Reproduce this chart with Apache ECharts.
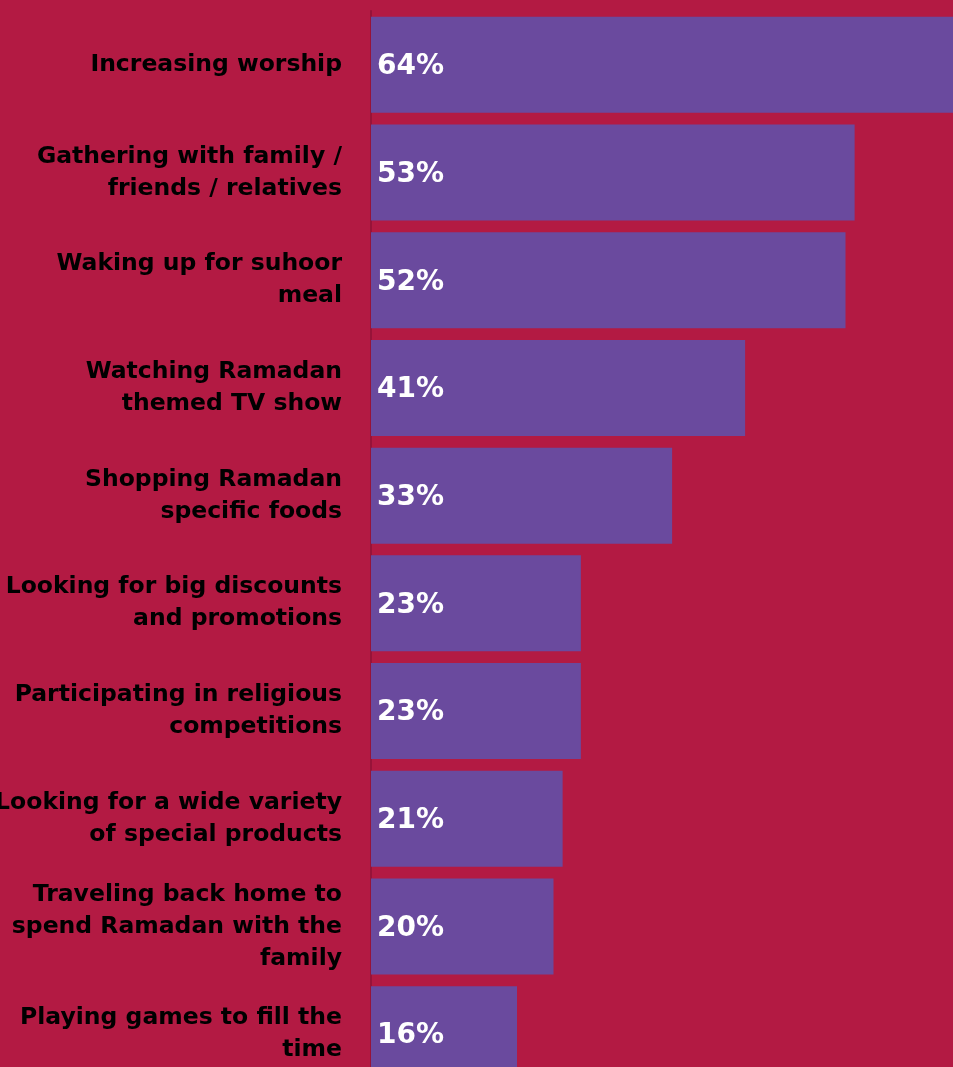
<!DOCTYPE html>
<html>
<head>
<meta charset="utf-8">
<script src="https://cdn.jsdelivr.net/npm/echarts@6/dist/echarts.min.js"></script>
<style>
html,body{margin:0;padding:0;background:#b31a43;overflow:hidden;}
#c{width:953px;height:1067px;}
</style>
</head>
<body>
<div id="c"></div>
<script>
const categories = [
  "Increasing worship",
  "Gathering with family /\nfriends / relatives",
  "Waking up for suhoor\nmeal",
  "Watching Ramadan\nthemed TV show",
  "Shopping Ramadan\nspecific foods",
  "Looking for big discounts\nand promotions",
  "Participating in religious\ncompetitions",
  "Looking for a wide variety\nof special products",
  "Traveling back home to\nspend Ramadan with the\nfamily",
  "Playing games to fill the\ntime"
];
const values = [64, 53, 52, 41, 33, 23, 23, 21, 20, 16];

const chart = echarts.init(document.getElementById('c'));
chart.setOption({
  backgroundColor: '#b31a43',
  animation: false,
  grid: {left: 371, right: -2, top: 11, bottom: -21, containLabel: false, outerBoundsMode: 'none'},
  xAxis: {type: 'value', min: 0, max: 64, show: false},
  yAxis: {
    type: 'category',
    inverse: true,
    data: categories,
    axisLine: {show: true, lineStyle: {color: '#971339', width: 2}},
    axisTick: {show: false},
    axisLabel: {
      color: '#000',
      fontFamily: 'DejaVu Sans',
      fontWeight: 'bold',
      fontSize: 23.5,
      lineHeight: 32,
      margin: 29,
      align: 'right',
      padding: [7, 0, 0, 0]
    }
  },
  series: [{
    type: 'bar',
    data: values,
    barWidth: 96,
    itemStyle: {color: '#6a4a9e'},
    label: {
      show: true,
      position: 'insideLeft',
      distance: 6,
      offset: [0, 2],
      formatter: '{c}%',
      color: '#fff',
      fontFamily: 'DejaVu Sans',
      fontWeight: 'bold',
      fontSize: 28
    }
  }]
});
</script>
</body>
</html>
